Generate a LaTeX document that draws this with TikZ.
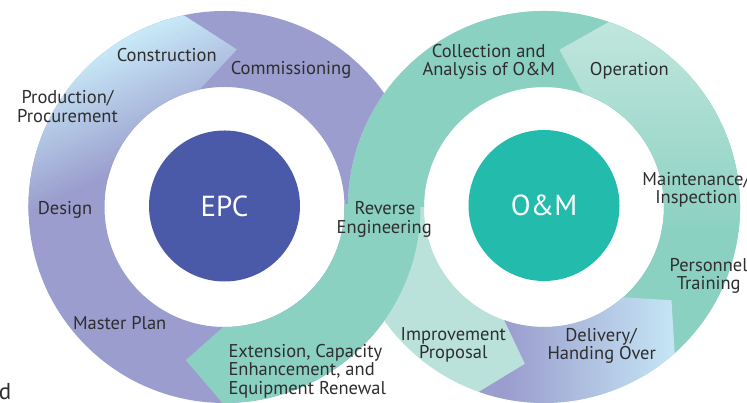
\documentclass[tikz,border=0pt]{standalone}
\usepackage{fontspec}
\setmainfont{PT Sans}
\definecolor{purp}{HTML}{9A9DCD}
\definecolor{lblue}{HTML}{C7E8F7}
\definecolor{epcblue}{HTML}{4A5AA8}
\definecolor{dgreen}{HTML}{8AD1C1}
\definecolor{lgreen}{HTML}{BAE2DA}
\definecolor{oplight}{HTML}{C4E7DF}
\definecolor{omgreen}{HTML}{22BBAC}
\definecolor{txt}{HTML}{2E2E2E}
\begin{document}
\begin{tikzpicture}[x=1pt,y=1pt,
  lbl/.style={font=\fontsize{18.5}{22}\selectfont, text=txt, inner sep=0pt, anchor=base},
  lblw/.style={lbl, anchor=base west},
  hub/.style={circle, inner sep=0pt, minimum size=151pt, text=white, font=\fontsize{29}{32}\selectfont}]
\clip (0,0) rectangle (747,403);
\coordinate (L) at (224.5,196);
\coordinate (R) at (544,196);
% ---------- left ring ----------
\fill[purp, even odd rule] (L) circle[radius=196] (L) circle[radius=120];
\begin{scope}[shift={(L)}]
  \begin{scope}
    \clip (102:196) arc[start angle=102, end angle=225, radius=196]
      -- (225:120) arc[start angle=225, end angle=102, radius=120]
      -- (85.5:158) -- cycle;
    \begin{scope}[rotate=25]
      \foreach \v in {75,79,...,199} {
        \pgfmathsetmacro\p{max(0,min(100,(\v-75)/115*100))}
        \fill[lblue!\p!purp] (-400,\v) rectangle (400,\v+4.6);
      }
      \fill[lblue] (-400,199) rectangle (400,400);
    \end{scope}
  \end{scope}
\end{scope}
% ---------- right ring ----------
\begin{scope}[shift={(R)}]
  \fill[lgreen, even odd rule] (0,0) circle[radius=196] (0,0) circle[radius=120];
  % collection and analysis
  \fill[dgreen] (60:196) arc[start angle=60, end angle=180, radius=196]
    -- (180:120) arc[start angle=180, end angle=60, radius=120] -- cycle;
  % operation / maintenance / training
  \begin{scope}
    \clip (70.7:196) arc[start angle=70.7, end angle=-60, radius=196]
      -- (-60:120) arc[start angle=-60, end angle=70.9, radius=120]
      -- (84.4:158) -- cycle;
    \fill[dgreen] (-10,-200) rectangle (210,210);
    \shade[top color=oplight, bottom color=dgreen] (-10,-25) rectangle (210,196);
  \end{scope}
  % delivery / handing over
  \begin{scope}
    \clip (-109.4:196) arc[start angle=-109.4, end angle=-48.2, radius=196]
      -- (-36.2:158) -- (-48.8:120) arc[start angle=-48.8, end angle=-109.3, radius=120]
      -- (-96.9:158) -- cycle;
    \fill[purp] (-120,-200) rectangle (-38,-40);
    \shade[left color=purp, right color=lblue] (-39,-200) rectangle (136,-40);
    \fill[lblue] (135,-200) rectangle (200,-40);
  \end{scope}
\end{scope}
% ---------- extension (left ring, lower right) ----------
\begin{scope}[shift={(L)}]
  \fill[dgreen] (1.5:196) arc[start angle=1.5, end angle=-90.6, radius=196]
    -- (-104.2:158) -- (-90.6:120) arc[start angle=-90.6, end angle=1.5, radius=120] -- cycle;
\end{scope}
% ---------- hubs ----------
\node[hub, fill=epcblue] (epc) at (224.5,197) {EPC};
\node[hub, fill=omgreen] (om) at (544,197.5) {O\&M};
% ---------- labels ----------
\node[lbl] (constr) at (166.7,341.3) {Construction};
\node[lbl] (comm) at (291,328) {Commissioning};
\node[lbl] (prod1) at (67.5,299) {Production/};
\node[lbl] (prod2) at (67.5,280.3) {Procurement};
\node[lbl] (design) at (65,188) {Design};
\node[lbl] (master) at (119.7,73) {Master Plan};
\node[lblw] (ext1) at (228.3,45.3) {Extension, Capacity};
\node[lblw] (ext2) at (228.3,27) {Enhancement, and};
\node[lblw] (ext3) at (228.3,8.7) {Equipment Renewal};
\node[lbl] (rev1) at (385,188.7) {Reverse};
\node[lbl] (rev2) at (384.2,169.7) {Engineering};
\node[lbl] (coll1) at (488.7,345.7) {Collection and};
\node[lbl] (coll2) at (488.8,327) {Analysis of O\&M};
\node[lbl] (oper) at (629.3,327) {Operation};
\node[lbl] (maint1) at (696.3,217.3) {Maintenance/};
\node[lbl] (maint2) at (696.3,199.7) {Inspection};
\node[lbl] (pers1) at (708.7,131.3) {Personnel};
\node[lbl] (pers2) at (708.7,113) {Training};
\node[lbl] (impr1) at (453.3,62.3) {Improvement};
\node[lbl] (impr2) at (453.3,44.7) {Proposal};
\node[lbl] (deliv1) at (601,61.3) {Delivery/};
\node[lbl] (deliv2) at (601.7,43) {Handing Over};
\node[inner sep=0pt, anchor=base east, text=txt, font=\fontsize{23}{26}\selectfont] (dfrag) at (11.5,3) {d};
\end{tikzpicture}
\end{document}
